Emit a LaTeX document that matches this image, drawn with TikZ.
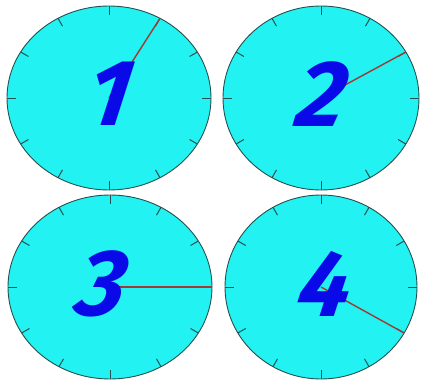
\documentclass[tikz,border=0pt]{standalone}
\usepackage{fontspec}
\usepackage{xcolor}
\usetikzlibrary{calc}
\newfontfamily\digitfont{Fira Sans}
\definecolor{facecyan}{HTML}{22F2F2}
\definecolor{rimgray}{HTML}{24504F}
\definecolor{handred}{HTML}{A03A34}
\definecolor{digitblue}{HTML}{0A0AE8}

\begin{document}
\begin{tikzpicture}[x=1pt, y=-1pt,
  clockface/.style={fill=facecyan, draw=rimgray, line width=0.9pt},
  tickmark/.style={draw=rimgray, line width=1pt},
  handline/.style={draw=handred, line width=1.4pt},
  numeral/.style={text=digitblue, inner sep=0pt, xslant=0.18, font=\digitfont\bfseries\itshape\fontsize{94}{94}\selectfont}]
  \useasboundingbox (0,0) rectangle (424,381);
  % four clock faces: name/centre/x radius/inner radius/digit position
  \foreach \n/\cx/\cy/\rx/\ri/\dx/\dy in {1/109/98/102/93/111/94, 2/321/98/98/89/323/94,
      3/110/287/102/93/103/284, 4/321/287/96/87/326/284} {
    \coordinate (c\n) at (\cx,\cy);
    \draw[clockface] (c\n) ellipse [x radius=\rx, y radius=92];
    \foreach \t in {0,30,...,330}
      \draw[tickmark] ($(c\n)+(\t:{\rx} and 92)$) -- ($(c\n)+(\t:{\ri} and 83)$);
    \coordinate (h\n) at ($(c\n)+({\n*30-90}:{\rx} and 92)$);
    \draw[handline] (c\n) -- (h\n);
    \node[numeral] (d\n) at (\dx,\dy) {\n};
  }
\end{tikzpicture}
\end{document}
